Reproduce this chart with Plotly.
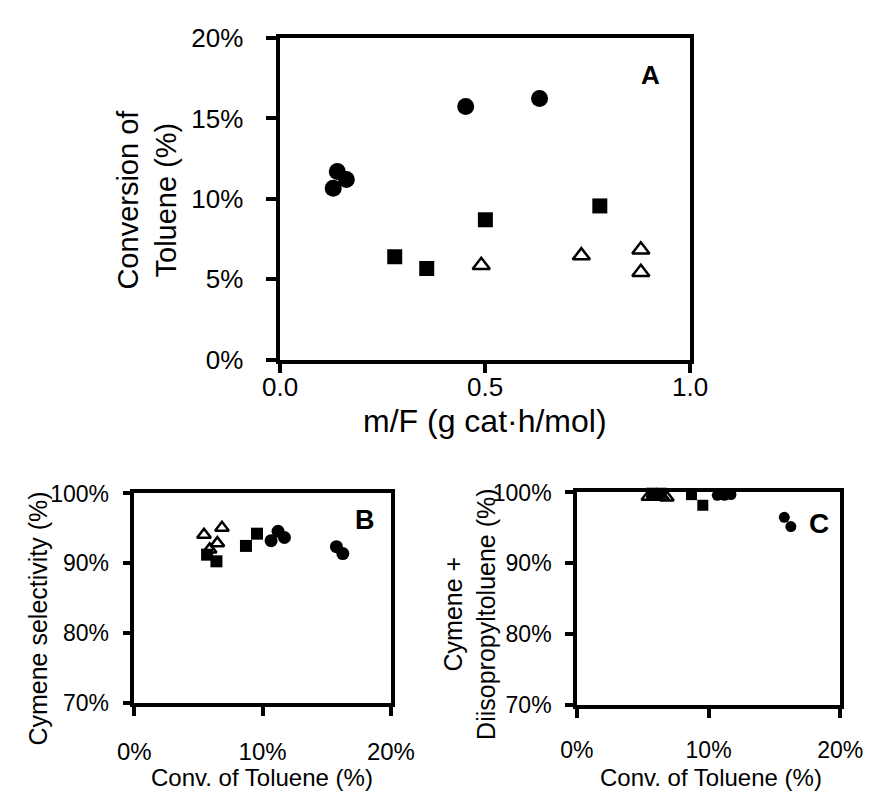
import plotly.graph_objects as go

W, H = 890, 804

# ---------------- data ----------------
# Panel A: m/F (g cat·h/mol) vs conversion of toluene (%)
circ_mf = [0.129, 0.139, 0.161, 0.452, 0.632]
circ_conv = [10.66, 11.70, 11.20, 15.75, 16.25]
sq_mf = [0.279, 0.357, 0.500, 0.779]
sq_conv = [6.40, 5.67, 8.70, 9.56]
tri_mf = [0.490, 0.734, 0.879, 0.879]
tri_conv = [5.87, 6.47, 6.83, 5.43]

# Panel B: cymene selectivity (%)
circ_sel = [93.25, 93.7, 94.6, 92.4, 91.4]
sq_sel = [90.3, 91.25, 92.5, 94.25]
tri_sel = [92.0, 92.9, 95.1, 94.1]

# Panel C: cymene + diisopropyltoluene (%)
circ_cd = [99.6, 99.7, 99.6, 96.5, 95.2]
sq_cd = [99.9, 99.9, 99.7, 98.2]
tri_cd = [99.4, 99.4, 99.3, 99.4]

a_xticks = [0, 0.5, 1.0]
a_xticklabels = ["0.0", "0.5", "1.0"]
a_yticks = [0, 5, 10, 15, 20]
a_yticklabels = ["0%", "5%", "10%", "15%", "20%"]
bc_xticks = [0, 10, 20]
bc_xticklabels = ["0%", "10%", "20%"]
bc_yticks = [70, 80, 90, 100]
bc_yticklabels = ["70%", "80%", "90%", "100%"]

FONT = "Liberation Sans, Arial, sans-serif"
BLACK = "#000000"


def px(x):
    return x / W


def py(y):
    return 1 - y / H


fig = go.Figure()


def add_set(xa, ya, x, y, symbol, size, open_=False):
    if open_:
        marker = dict(symbol=symbol, size=size, color=BLACK,
                      line=dict(color=BLACK, width=2.5))
    else:
        marker = dict(symbol=symbol, size=size, color=BLACK,
                      line=dict(color=BLACK, width=0))
    fig.add_trace(go.Scatter(x=x, y=y, mode="markers", marker=marker,
                             xaxis=xa, yaxis=ya, showlegend=False,
                             cliponaxis=False, hoverinfo="skip"))


# Panel A
add_set("x", "y", circ_mf, circ_conv, "circle", 17)
add_set("x", "y", sq_mf, sq_conv, "square", 15)
add_set("x", "y", tri_mf, tri_conv, "triangle-up-open", 15, open_=True)

# Panel B
add_set("x2", "y2", circ_conv, circ_sel, "circle", 13)
add_set("x2", "y2", tri_conv, tri_sel, "triangle-up-open", 12, open_=True)
add_set("x2", "y2", sq_conv, sq_sel, "square", 12)

# Panel C
add_set("x3", "y3", circ_conv, circ_cd, "circle", 11)
add_set("x3", "y3", tri_conv, tri_cd, "triangle-up-open", 12, open_=True)
add_set("x3", "y3", sq_conv, sq_cd, "square", 11)

axis_common = dict(showline=True, linecolor=BLACK, mirror=True, ticks="outside",
                   tickcolor=BLACK, showgrid=False, zeroline=False,
                   color=BLACK, fixedrange=True, tickmode="array")

fig.update_layout(
    width=W, height=H, autosize=False,
    margin=dict(l=0, r=0, t=0, b=0),
    paper_bgcolor="white", plot_bgcolor="white",
    font=dict(family=FONT, color=BLACK),
    xaxis=dict(domain=[px(276), px(706)], range=[0, 1], tickvals=a_xticks,
               showticklabels=False, linewidth=3.5, tickwidth=3.5, ticklen=10,
               anchor="y", **axis_common),
    yaxis=dict(domain=[py(358), py(24)], range=[0, 20], tickvals=a_yticks,
               ticktext=a_yticklabels, linewidth=3.5, tickwidth=3.5, ticklen=11,
               tickfont=dict(size=26), ticklabelstandoff=17, anchor="x",
               **axis_common),
    xaxis2=dict(domain=[px(123), px(392)], range=[0, 20], tickvals=bc_xticks,
                ticktext=bc_xticklabels, linewidth=3.5, tickwidth=3.5, ticklen=9,
                tickfont=dict(size=24), ticklabelstandoff=15, anchor="y2",
                **axis_common),
    yaxis2=dict(domain=[py(715), py(497)], range=[70, 100], tickvals=bc_yticks,
                ticktext=bc_yticklabels, linewidth=3.5, tickwidth=3.5, ticklen=8,
                tickfont=dict(size=23), ticklabelstandoff=9, anchor="x2",
                **axis_common),
    xaxis3=dict(domain=[px(587), px(863)], range=[0, 20], tickvals=bc_xticks,
                ticktext=bc_xticklabels, linewidth=3.5, tickwidth=3.5, ticklen=9,
                tickfont=dict(size=23), ticklabelstandoff=12, anchor="y3",
                **axis_common),
    yaxis3=dict(domain=[py(717), py(496)], range=[70, 100], tickvals=bc_yticks,
                ticktext=bc_yticklabels, linewidth=3.5, tickwidth=3.5, ticklen=8,
                tickfont=dict(size=23), ticklabelstandoff=9, anchor="x3",
                **axis_common),
)


def ann(text, x, y, size, angle=0, bold=False):
    if bold:
        text = "<b>" + text + "</b>"
    fig.add_annotation(text=text, x=px(x), y=py(y), xref="paper", yref="paper",
                       showarrow=False, textangle=angle, xanchor="center",
                       yanchor="middle", font=dict(size=size, family=FONT, color=BLACK))


# Panel A x tick labels placed on the x axis scale
for v, t in zip(a_xticks, a_xticklabels):
    fig.add_annotation(text=t, x=v, xref="x", y=py(386), yref="paper",
                       showarrow=False, xanchor="center", yanchor="middle",
                       font=dict(size=26, family=FONT, color=BLACK))

# Axis titles
ann("m/F (g cat·h/mol)", 491, 422, 32)
ann("Conversion of<br>Toluene (%)", 136, 192, 29, angle=-90)
ann("Conv. of Toluene (%)", 257, 792, 24)
ann("Cymene selectivity (%)", 22, 627, 25, angle=-90)
ann("Conv. of Toluene (%)", 727, 792, 24)
ann("Cymene +<br>Diisopropyltoluene (%)", 475, 622, 25, angle=-90)

# Panel letters
ann("A", 664, 62, 26, bold=True)
ann("B", 365, 525, 27, bold=True)
ann("C", 841, 528, 28, bold=True)

fig.write_html("out.html")
